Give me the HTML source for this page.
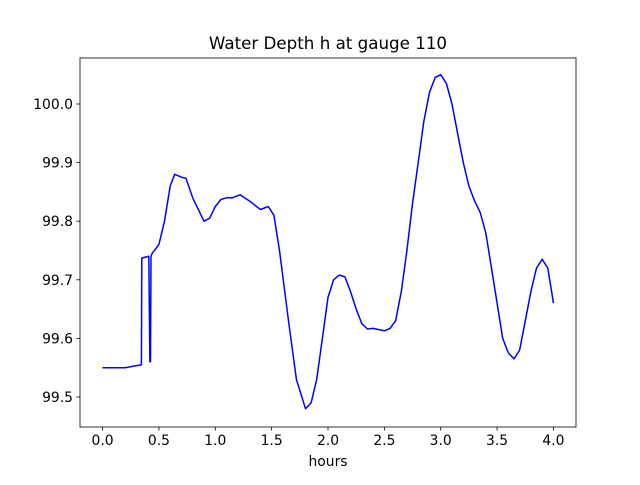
<!DOCTYPE html>
<html><head><meta charset="utf-8"><style>
body{margin:0;background:#fff}
svg text{font-family:"DejaVu Sans","Liberation Sans",sans-serif;fill:#000}
</style></head><body>
<svg id="chart" width="640" height="480" xmlns="http://www.w3.org/2000/svg">
<rect width="640" height="480" fill="#fff"/>
<text x="328" y="49" font-size="16.7" text-anchor="middle">Water Depth h at gauge 110</text>
<g id="xt"></g>
<g id="yt"></g>
<polyline id="line" fill="none" stroke="#0000ff" stroke-width="1.5" stroke-linejoin="round"/>
<rect x="80" y="58" width="496" height="369" fill="none" stroke="#000" stroke-width="0.8"/>
<text x="328" y="466" font-size="13.9" text-anchor="middle">hours</text>
</svg>
<script>
const hours=[0,0.2,0.345,0.348,0.405,0.41,0.42,0.425,0.43,0.44,0.5,0.55,0.6,0.64,0.7,0.74,0.8,0.9,0.95,1.0,1.05,1.1,1.15,1.22,1.3,1.4,1.47,1.52,1.57,1.65,1.72,1.8,1.85,1.9,1.95,2.0,2.05,2.1,2.15,2.2,2.25,2.3,2.35,2.4,2.5,2.55,2.6,2.65,2.7,2.75,2.8,2.85,2.9,2.95,3.0,3.05,3.1,3.15,3.2,3.25,3.3,3.35,3.4,3.45,3.5,3.55,3.6,3.65,3.7,3.75,3.8,3.85,3.9,3.95,4.0];
const depth=[99.55,99.55,99.555,99.737,99.74,99.74,99.56,99.56,99.74,99.745,99.76,99.8,99.86,99.88,99.875,99.873,99.84,99.80,99.805,99.825,99.837,99.84,99.84,99.845,99.835,99.82,99.825,99.81,99.75,99.63,99.53,99.48,99.49,99.53,99.6,99.67,99.70,99.708,99.705,99.68,99.65,99.625,99.616,99.617,99.613,99.617,99.63,99.68,99.75,99.83,99.9,99.97,100.02,100.045,100.05,100.035,100.0,99.95,99.9,99.86,99.835,99.815,99.78,99.72,99.66,99.6,99.575,99.565,99.58,99.63,99.68,99.72,99.735,99.72,99.66];
const xTicks=["0.0","0.5","1.0","1.5","2.0","2.5","3.0","3.5","4.0"];
const yTicks=["99.5","99.6","99.7","99.8","99.9","100.0"];
const X0=80,X1=576,Y0=427,Y1=58,xmin=-0.2,xmax=4.2,ymin=99.4488,ymax=100.0785;
const sx=v=>X0+(v-xmin)/(xmax-xmin)*(X1-X0);
const sy=v=>Y0-(v-ymin)/(ymax-ymin)*(Y0-Y1);
const NS="http://www.w3.org/2000/svg";
document.getElementById('line').setAttribute('points',hours.map((h,i)=>sx(h).toFixed(1)+','+sy(depth[i]).toFixed(1)).join(' '));
const xt=document.getElementById('xt'),yt=document.getElementById('yt');
xTicks.forEach(t=>{const x=sx(parseFloat(t));
 const l=document.createElementNS(NS,'line');
 
 
 l.setAttribute('x1',x);l.setAttribute('x2',x);l.setAttribute('y1',Y0);l.setAttribute('y2',Y0+3.5);l.setAttribute('stroke','#000');l.setAttribute('stroke-width','0.8');xt.appendChild(l);
 const s=document.createElementNS(NS,'text');
 
 
 s.setAttribute('x',x);s.setAttribute('y',Y0+18);s.setAttribute('font-size','13.9');s.setAttribute('text-anchor','middle');s.textContent=t;xt.appendChild(s);});
yTicks.forEach(t=>{const y=sy(parseFloat(t));
 const l=document.createElementNS(NS,'line');
 
 
 l.setAttribute('x1',X0-3.5);l.setAttribute('x2',X0);l.setAttribute('y1',y);l.setAttribute('y2',y);l.setAttribute('stroke','#000');l.setAttribute('stroke-width','0.8');yt.appendChild(l);
 const s=document.createElementNS(NS,'text');
 
 
 s.setAttribute('x',X0-7);s.setAttribute('y',y+5);s.setAttribute('font-size','13.9');s.setAttribute('text-anchor','end');s.textContent=t;yt.appendChild(s);});
</script>
</body></html>
